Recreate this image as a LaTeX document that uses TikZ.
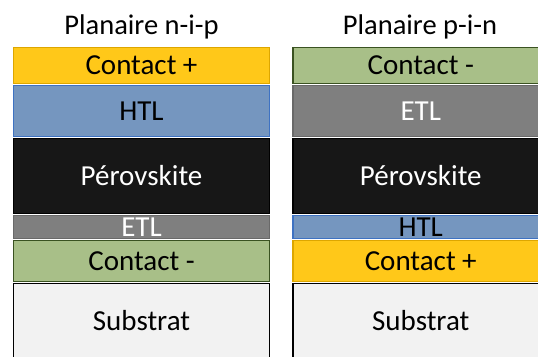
\documentclass[tikz,border=0pt]{standalone}
\usepackage{fontspec}
\setmainfont{Carlito}
\usetikzlibrary{positioning}
\definecolor{gold}{HTML}{FFC819}
\definecolor{golddk}{HTML}{DDA600}
\definecolor{htl}{HTML}{7596BF}
\definecolor{htldk}{HTML}{3E72C2}
\definecolor{perov}{HTML}{171717}
\definecolor{etl}{HTML}{7F7F7F}
\definecolor{etldk}{HTML}{696969}
\definecolor{green}{HTML}{A8BF88}
\definecolor{greendk}{HTML}{3A5221}
\definecolor{subst}{HTML}{F2F2F2}
\tikzset{
layer/.style={draw,line width=1.5pt,minimum width=256pt,inner sep=0pt,
  text height=19pt,text depth=0pt,font=\fontsize{29}{31}\selectfont},
title/.style={inner sep=0pt,text height=18pt,text depth=0pt,font=\fontsize{28.5}{30}\selectfont}
}
\begin{document}
\begin{tikzpicture}[x=1pt,y=-1pt]
\useasboundingbox(0,0)rectangle(538,356);
\clip(0,0)rectangle(538,356);
\node[title](t1)at(141.5,25){Planaire n-i-p};
\node[title](t2)at(420,25){Planaire p-i-n};
% n-i-p
\node[layer,fill=gold,draw=golddk,minimum height=36pt,anchor=north](a1)at(141.5,46.5){Contact +};
\node[layer,fill=htl,draw=htldk,minimum height=51pt,below=0.5pt of a1](a2){HTL};
\node[layer,fill=perov,draw=black,text=white,minimum height=75pt,below=0.5pt of a2](a3){Pérovskite};
\node[layer,fill=etl,draw=etldk,text=white,minimum height=23pt,below=0.5pt of a3](a4){ETL};
\node[layer,fill=green,draw=greendk,minimum height=41pt,below=0.5pt of a4](a5){Contact -};
\node[layer,fill=subst,draw=black,minimum height=76pt,below=0.5pt of a5](a6){Substrat};
% p-i-n
\node[layer,fill=green,draw=greendk,minimum height=36pt,anchor=north](b1)at(420.75,46.5){Contact -};
\node[layer,fill=etl,draw=etldk,text=white,minimum height=51pt,below=0.5pt of b1](b2){ETL};
\node[layer,fill=perov,draw=black,text=white,minimum height=75pt,below=0.5pt of b2](b3){Pérovskite};
\node[layer,fill=htl,draw=htldk,minimum height=23pt,below=0.5pt of b3](b4){HTL};
\node[layer,fill=gold,draw=golddk,minimum height=41pt,below=0.5pt of b4](b5){Contact +};
\node[layer,fill=subst,draw=black,minimum height=76pt,below=0.5pt of b5](b6){Substrat};
\end{tikzpicture}
\end{document}
